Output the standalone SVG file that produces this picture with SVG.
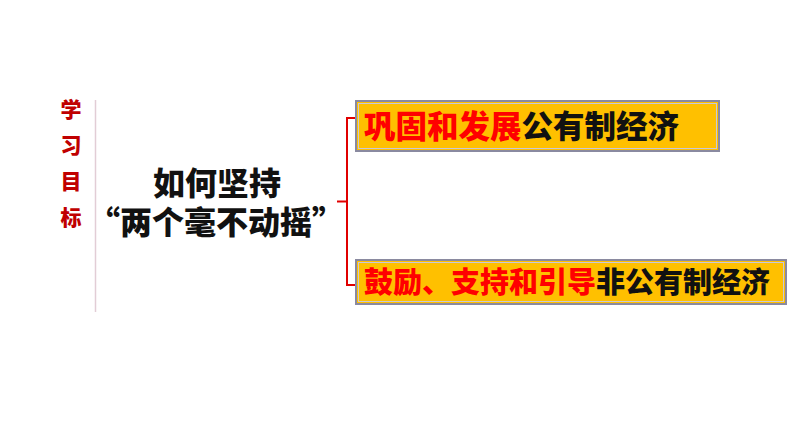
<svg xmlns="http://www.w3.org/2000/svg" width="794" height="447" viewBox="0 0 794 447">
<style>
.cjk{font-family:"Noto Sans CJK SC","Noto Sans CJK JP",sans-serif;font-weight:900}
.box{fill:#ffc000;stroke:#8a8aa0;stroke-width:2}
.inner{fill:none;stroke:#c8c8d8;stroke-width:1}
.red{fill:#ff0000}
.blk{fill:#111111}
.br{stroke:#e00000;stroke-width:2;fill:none}
</style>
<rect width="794" height="447" fill="#ffffff"/>
<g id="title">
<text class="cjk" x="71" y="117" font-size="21" fill="#c00000" text-anchor="middle">学</text>
<text class="cjk" x="71" y="153" font-size="21" fill="#c00000" text-anchor="middle">习</text>
<text class="cjk" x="71" y="189" font-size="21" fill="#c00000" text-anchor="middle">目</text>
<text class="cjk" x="71" y="225" font-size="21" fill="#c00000" text-anchor="middle">标</text>
<line x1="95.500" y1="100" x2="95.500" y2="312" stroke="#e2cdd6" stroke-width="1.500"/>
</g>
<g id="question">
<text class="cjk blk" font-size="32" text-anchor="middle"><tspan x="217" y="195">如何坚持</tspan><tspan x="216" y="234">“两个毫不动摇”</tspan></text>
</g>
<g id="connectors">
<path class="br" d="M356 118 H347 V285 H356"/>
<line class="br" x1="337" y1="201.500" x2="347" y2="201.500"/>
</g>
<g id="box1">
<rect class="box" x="356" y="101" width="363" height="50"/>
<rect class="inner" x="358.500" y="103.500" width="358" height="45"/>
<text class="cjk" x="364" y="138" font-size="31.500"><tspan class="red">巩固和发展</tspan><tspan class="blk">公有制经济</tspan></text>
</g>
<g id="box2">
<rect class="box" x="356" y="260" width="430" height="44"/>
<rect class="inner" x="358.500" y="262.500" width="425" height="39"/>
<text class="cjk" x="364" y="293" font-size="29"><tspan class="red">鼓励、支持和引导</tspan><tspan class="blk">非公有制经济</tspan></text>
</g>
</svg>
